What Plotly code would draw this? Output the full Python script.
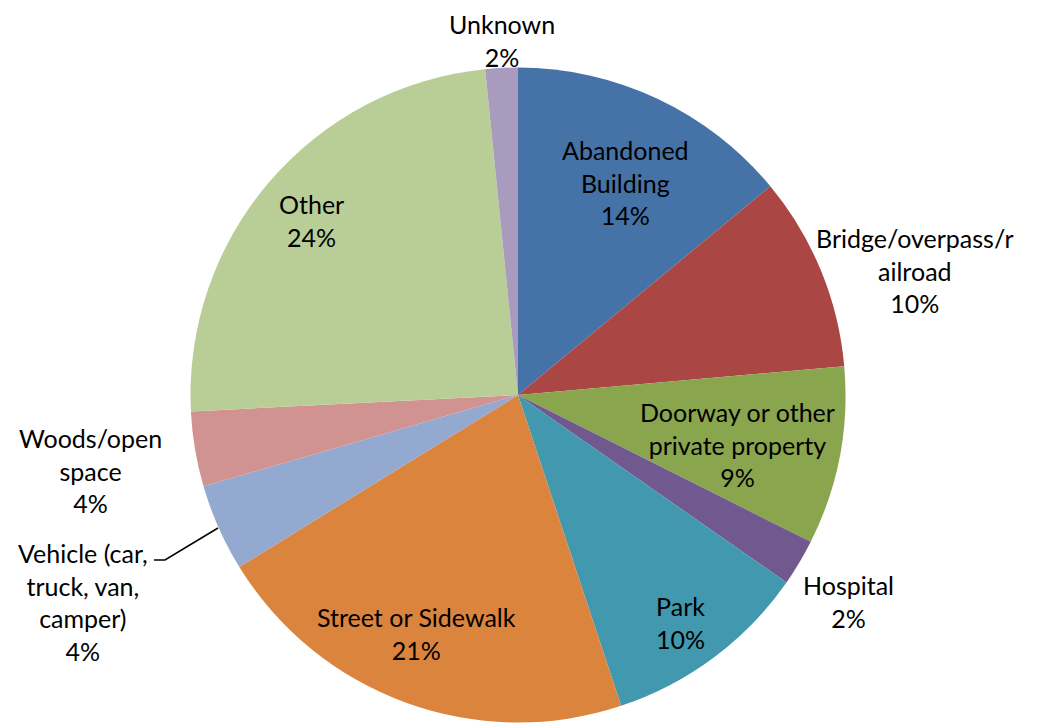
import plotly.graph_objects as go

W, H = 1043, 724
OFF = 8  # page body margin offset

categories = ["Abandoned Building", "Bridge/overpass/railroad", "Doorway or other private property",
              "Hospital", "Park", "Street or Sidewalk", "Vehicle (car, truck, van, camper)",
              "Woods/open space", "Other", "Unknown"]
display_labels = ["Abandoned<br>Building", "Bridge/overpass/r<br>ailroad", "Doorway or other<br>private property",
                  "Hospital", "Park", "Street or Sidewalk", "Vehicle (car,<br>truck, van,<br>camper)",
                  "Woods/open<br>space", "Other", "Unknown"]
values = [14.0, 9.6, 8.8, 2.3, 10.2, 21.3, 4.3, 3.7, 24.2, 1.6]
colors = ["#4572A7", "#AA4643", "#89A54E", "#71588F", "#4198AF", "#DB843D",
          "#93A9CF", "#D19392", "#B9CD96", "#A99BBD"]

# label block centres in screen pixels (layout only)
label_pos = [(625, 183), (915, 270), (737, 444), (848, 601), (680, 622),
             (416, 633), (83, 602), (90, 470), (311, 220), (502, 41)]


def px2paper(x, y):
    return (x - OFF) / W, 1 - (y - OFF) / H


cx, cy, r = 518, 395, 327.5
x0, y1 = px2paper(cx - r, cy - r)
x1, y0 = px2paper(cx + r, cy + r)

fig = go.Figure(go.Pie(
    labels=categories,
    values=values,
    sort=False,
    direction="clockwise",
    rotation=0,
    marker=dict(colors=colors, line=dict(width=0)),
    textinfo="none",
    showlegend=False,
    hoverinfo="label+percent",
    domain=dict(x=[x0, x1], y=[max(y0, 0), y1]),
))

total = sum(values)
for lab, v, (px, py) in zip(display_labels, values, label_pos):
    ax, ay = px2paper(px, py)
    fig.add_annotation(
        x=ax, y=ay, xref="paper", yref="paper",
        text=f"{lab}<br>{round(v / total * 100)}%",
        showarrow=False, xanchor="center", yanchor="middle", align="center",
        borderpad=0,
        font=dict(family="Lato", size=25, color="black"),
    )

# leader line for the Vehicle label
pts = [(154, 560), (165, 560), (218, 528)]
path = "M " + " L ".join("{},{}".format(*px2paper(x, y)) for x, y in pts)
fig.add_shape(type="path", path=path, xref="paper", yref="paper",
              line=dict(color="black", width=1.5))

fig.update_layout(
    width=W, height=H,
    margin=dict(l=0, r=0, t=0, b=0),
    paper_bgcolor="white",
    font=dict(family="Lato", size=25, color="black"),
)

fig.write_html("out.html")
